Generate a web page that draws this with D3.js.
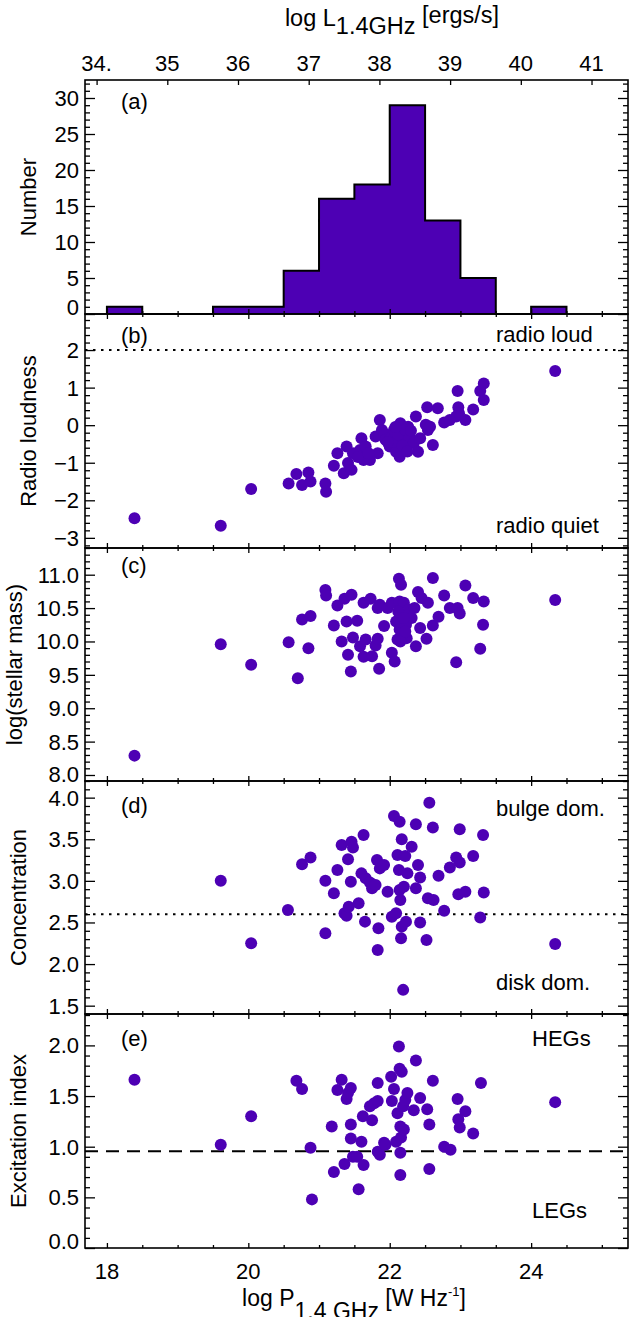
<!DOCTYPE html>
<html>
<head>
<meta charset="utf-8">
<script src="https://cdn.jsdelivr.net/npm/d3@7"></script>
<style>
  body { margin: 0; background: #fff; }
  svg text { font-family: "Liberation Sans", Arial, sans-serif; fill: #000; }
</style>
</head>
<body>
<svg id="chart" width="629" height="1317"></svg>
<script>
// histogram of log P (bin start, width 0.5) and counts
const histStart = [18.0, 18.5, 19.0, 19.5, 20.0, 20.5, 21.0, 21.5, 22.0, 22.5, 23.0, 23.5, 24.0];
const histCount = [1, 0, 0, 1, 1, 6, 16, 18, 29, 13, 5, 0, 1];
const binWidth = 0.5;

// top axis: log L = log P + 16.146
const topTicks = [34, 35, 36, 37, 38, 39, 40, 41];
const topLabels = ["34.", "35", "36", "37", "38", "39", "40", "41"];
const logLOffset = 16.146;

// (b) radio loudness
const loudX = [18.39, 19.61, 20.04, 20.57, 20.68, 20.76, 20.85, 20.88, 21.09, 21.10, 21.21, 21.26, 21.35, 21.39, 21.41, 21.46,
  21.48, 21.58, 21.60, 21.63, 21.66, 21.72, 21.80, 21.83, 21.86, 21.89, 21.92, 21.94, 22.00, 22.03, 22.06, 22.09,
  22.11, 22.14, 22.15, 22.17, 22.20, 22.23, 22.26, 22.28, 22.34, 22.37, 22.40, 22.43, 22.51, 22.54, 22.57, 22.53,
  22.61, 22.68, 22.77, 22.85, 22.94, 22.97, 22.96, 22.98, 23.07, 23.18, 23.28, 23.33, 23.33, 24.34,
  22.05, 22.12, 22.18, 22.22, 22.08, 21.97, 22.30, 22.25, 21.55, 21.70];
const loudY = [-2.48, -2.68, -1.70, -1.55, -1.30, -1.59, -1.26, -1.50, -1.55, -1.77, -1.08, -0.75, -1.28, -0.57, -1.01, -1.19,
  -0.75, -0.66, -0.35, -0.93, -0.57, -0.93, -0.30, -0.75, 0.14, -0.13, -0.22, -0.39, -0.57, -0.30, -0.13, -0.71,
  -0.04, -0.84, 0.05, -0.39, -0.22, -0.57, -0.04, -0.30, -0.48, 0.23, -0.71, -0.35, 0.01, -0.13, -0.04, 0.48,
  -0.53, 0.45, 0.07, 0.14, 0.23, 0.48, 0.91, 0.32, 0.14, 0.42, 0.91, 1.11, 0.67, 1.44,
  -0.45, -0.25, -0.55, -0.12, -0.05, -0.45, -0.15, -0.70, -0.85, -0.75];

// (c) log stellar mass
const massX = [18.39, 19.61, 20.04, 20.57, 20.70, 20.76, 20.85, 20.88, 21.09, 21.10, 21.21, 21.26, 21.32, 21.36, 21.39, 21.41,
  21.46, 21.45, 21.48, 21.54, 21.58, 21.63, 21.63, 21.66, 21.73, 21.75, 21.80, 21.83, 21.83, 21.85, 21.86, 21.92,
  21.97, 22.03, 22.03, 22.07, 22.09, 22.11, 22.13, 22.16, 22.14, 22.14, 22.17, 22.20, 22.23, 22.24, 22.27, 22.31,
  22.35, 22.37, 22.40, 22.43, 22.45, 22.52, 22.54, 22.61, 22.61, 22.69, 22.77, 22.85, 22.94, 22.96, 22.99, 23.07,
  23.18, 23.28, 23.32, 23.33, 24.34,
  22.12, 22.18, 22.20, 22.15, 22.22];
const massY = [8.29, 9.96, 9.65, 9.99, 9.45, 10.33, 9.90, 10.38, 10.77, 10.69, 10.24, 10.54, 10.00, 10.64, 10.30, 9.80,
  10.70, 9.55, 10.06, 10.31, 9.93, 10.58, 9.77, 10.03, 10.64, 9.78, 9.94, 10.04, 10.50, 9.59, 10.55, 10.23,
  10.50, 10.58, 9.83, 9.70, 10.30, 10.03, 10.94, 10.85, 10.60, 10.18, 10.40, 10.58, 10.25, 10.05, 10.48, 10.35,
  10.50, 9.93, 10.74, 10.20, 10.65, 10.04, 10.58, 10.95, 10.24, 10.37, 10.69, 10.50, 9.69, 10.50, 10.42, 10.84,
  10.65, 9.89, 10.25, 10.60, 10.62,
  10.45, 10.12, 10.35, 10.00, 10.15];

// (d) concentration
const concX = [19.61, 20.04, 20.56, 20.76, 20.88, 21.09, 21.09, 21.21, 21.26, 21.32, 21.36, 21.39, 21.41, 21.42, 21.45, 21.46,
  21.48, 21.56, 21.60, 21.63, 21.65, 21.66, 21.72, 21.75, 21.80, 21.82, 21.84, 21.83, 21.86, 21.92, 21.97, 22.03,
  22.06, 22.09, 22.11, 22.13, 22.14, 22.14, 22.15, 22.16, 22.17, 22.17, 22.20, 22.22, 22.23, 22.25, 22.19, 22.31,
  22.37, 22.37, 22.40, 22.43, 22.43, 22.52, 22.54, 22.56, 22.61, 22.62, 22.69, 22.77, 22.85, 22.94, 22.97, 22.99,
  22.99, 23.07, 23.18, 23.28, 23.32, 23.33, 24.34];
const concY = [3.00, 2.25, 2.65, 3.20, 3.28, 3.00, 2.37, 2.85, 3.13, 3.43, 2.61, 2.58, 3.26, 2.69, 2.99, 3.47,
  3.40, 2.73, 3.09, 3.55, 2.51, 3.03, 2.98, 2.91, 2.95, 3.25, 2.43, 2.17, 3.15, 3.19, 2.87, 2.57,
  3.78, 2.61, 3.31, 3.13, 3.71, 2.89, 2.77, 2.31, 3.50, 2.45, 2.93, 3.30, 2.51, 3.09, 1.69, 3.41,
  3.68, 2.91, 3.19, 3.04, 2.50, 2.29, 2.79, 3.94, 3.64, 2.77, 3.06, 2.64, 3.16, 3.28, 2.84, 3.62,
  3.22, 2.87, 3.30, 2.56, 3.55, 2.86, 2.24];

// (e) excitation index
const excX = [18.39, 19.61, 20.04, 20.68, 20.76, 20.88, 20.90, 21.18, 21.21, 21.26, 21.32, 21.36, 21.39, 21.41, 21.45, 21.45,
  21.45, 21.48, 21.54, 21.56, 21.60, 21.62, 21.63, 21.72, 21.75, 21.78, 21.83, 21.83, 21.83, 21.86, 21.92, 21.94,
  22.02, 22.03, 22.06, 22.09, 22.11, 22.13, 22.14, 22.15, 22.15, 22.15, 22.16, 22.17, 22.19, 22.20, 22.22, 22.25,
  22.34, 22.37, 22.43, 22.53, 22.56, 22.56, 22.61, 22.77, 22.86, 22.96, 22.97, 22.99, 23.07, 23.18, 23.29, 24.34];
const excY = [1.66, 1.02, 1.30, 1.65, 1.57, 0.99, 0.48, 1.20, 0.75, 1.56, 1.66, 0.83, 1.47, 1.53, 1.58, 1.22,
  1.08, 0.90, 0.90, 0.58, 1.05, 1.30, 0.82, 1.40, 1.26, 1.43, 1.45, 1.63, 0.95, 0.92, 1.04, 1.02,
  1.69, 1.45, 1.57, 1.05, 1.33, 1.99, 1.77, 0.72, 0.94, 1.20, 1.09, 1.74, 1.40, 1.17, 1.46, 1.53,
  1.36, 1.85, 1.48, 1.37, 1.22, 0.78, 1.65, 1.00, 0.97, 1.47, 1.27, 1.19, 1.35, 1.13, 1.63, 1.44];

const purple = "#4d00b4";
const left = 85, right = 628;
const svg = d3.select("#chart");

const x = d3.scaleLinear().domain([17.69, 25.37]).range([left, right]);
const xMajor = [18, 20, 22, 24];
const xMinor = d3.range(18, 25.6, 0.5).filter(v => !xMajor.includes(v));

const panels = [
  {top: 80, bottom: 314, domain: [0, 32.5], major: d3.range(0, 31, 5), minor: 1, fmt: d3.format("d"),
   title: "Number", titleX: 36, tag: "(a)", tagDy: 29},
  {top: 314, bottom: 548, domain: [-3.27, 2.96], major: [-3, -2, -1, 0, 1, 2], minor: 0.2, fmt: d3.format("d"),
   title: "Radio loudness", titleX: 36, tag: "(b)", tagDy: 29, xs: loudX, ys: loudY,
   line: {v: 2, dash: "2.5,5.5"}, notes: [["radio loud", 496, 342], ["radio quiet", 496, 533]]},
  {top: 548, bottom: 781, domain: [7.91, 11.4], major: d3.range(8, 11.01, 0.5), minor: 0.1, fmt: d3.format(".1f"),
   title: "log(stellar mass)", titleX: 22, tag: "(c)", tagDy: 25, xs: massX, ys: massY},
  {top: 781, bottom: 1014, domain: [1.4, 4.2], major: d3.range(1.5, 4.01, 0.5), minor: 0.1, fmt: d3.format(".1f"),
   title: "Concentration", titleX: 26, tag: "(d)", tagDy: 32, xs: concX, ys: concY,
   line: {v: 2.6, dash: "2.5,5.5"}, notes: [["bulge dom.", 496, 816], ["disk dom.", 496, 990]]},
  {top: 1014, bottom: 1248, domain: [0, 2.31], major: d3.range(0, 2.01, 0.5), minor: 0.1, fmt: d3.format(".1f"),
   title: "Excitation index", titleX: 26, tag: "(e)", tagDy: 32, xs: excX, ys: excY,
   line: {v: 0.955, dash: "13,8"}, notes: [["HEGs", 532, 1046], ["LEGs", 532, 1218]]}
];

function minorTicks(domain, step) {
  const lo = Math.ceil(domain[0] / step - 1e-6), hi = Math.floor(domain[1] / step + 1e-6);
  return d3.range(lo, hi + 1).map(i => +(i * step).toFixed(3));
}

function noDomain(g) { g.select(".domain").remove(); g.selectAll("line").attr("stroke", "#000").attr("stroke-width", 1.3); }

panels.forEach((p, i) => {
  const y = d3.scaleLinear().domain(p.domain).range([p.bottom, p.top]);
  const g = svg.append("g");
  const minors = minorTicks(p.domain, p.minor).filter(v => !p.major.some(m => Math.abs(m - v) < 1e-6));

  // histogram: one filled step area plus black outline
  if (i === 0) {
    const pts = [[histStart[0], 0]];
    histStart.forEach((s, k) => { pts.push([s, histCount[k]], [s + binWidth, histCount[k]]); });
    pts.push([histStart[histStart.length - 1] + binWidth, 0]);
    g.append("path")
      .attr("d", d3.area().x(d => x(d[0])).y0(y(0)).y1(d => y(d[1]))(pts))
      .attr("fill", purple);
    g.append("path")
      .attr("d", d3.line().x(d => x(d[0])).y(d => y(d[1]))(pts))
      .attr("fill", "none").attr("stroke", "#000").attr("stroke-width", 2);
  }

  // reference line
  if (p.line) {
    g.append("line")
      .attr("x1", left).attr("x2", right)
      .attr("y1", y(p.line.v)).attr("y2", y(p.line.v))
      .attr("stroke", "#000").attr("stroke-width", 2)
      .attr("stroke-dasharray", p.line.dash);
  }

  // points
  if (p.xs) {
    g.selectAll("circle").data(p.xs).enter().append("circle")
      .attr("cx", d => x(d))
      .attr("cy", (d, k) => y(p.ys[k]))
      .attr("r", 6)
      .attr("fill", purple);
  }

  // ticks: left / right
  const tickW = 10;
  g.append("g").attr("transform", `translate(${left},0)`)
    .call(d3.axisLeft(y).tickValues(p.major).tickSize(-tickW).tickFormat("")).call(noDomain);
  g.append("g").attr("transform", `translate(${left},0)`)
    .call(d3.axisLeft(y).tickValues(minors).tickSize(-tickW / 2).tickFormat("")).call(noDomain);
  g.append("g").attr("transform", `translate(${right},0)`)
    .call(d3.axisRight(y).tickValues(p.major).tickSize(-tickW).tickFormat("")).call(noDomain);
  g.append("g").attr("transform", `translate(${right},0)`)
    .call(d3.axisRight(y).tickValues(minors).tickSize(-tickW / 2).tickFormat("")).call(noDomain);

  // ticks: bottom / top
  g.append("g").attr("transform", `translate(0,${p.bottom})`)
    .call(d3.axisBottom(x).tickValues(xMajor).tickSize(-5).tickFormat("")).call(noDomain);
  g.append("g").attr("transform", `translate(0,${p.bottom})`)
    .call(d3.axisBottom(x).tickValues(xMinor).tickSize(-3).tickFormat("")).call(noDomain);
  if (i === 0) {
    g.append("g").attr("transform", `translate(0,${p.top})`)
      .call(d3.axisTop(x).tickValues(topTicks.map(v => v - logLOffset)).tickSize(-5).tickFormat("")).call(noDomain);
  } else {
    g.append("g").attr("transform", `translate(0,${p.top})`)
      .call(d3.axisTop(x).tickValues(xMajor).tickSize(-5).tickFormat("")).call(noDomain);
    g.append("g").attr("transform", `translate(0,${p.top})`)
      .call(d3.axisTop(x).tickValues(xMinor).tickSize(-3).tickFormat("")).call(noDomain);
  }

  // frame
  g.append("rect").attr("x", left).attr("y", p.top)
    .attr("width", right - left).attr("height", p.bottom - p.top)
    .attr("fill", "none").attr("stroke", "#000").attr("stroke-width", 1.6);

  // y tick labels
  g.selectAll("text.ylab").data(p.major).enter().append("text")
    .attr("x", 79)
    .attr("y", d => Math.min(y(d), p.bottom - 7))
    .attr("dy", "0.36em")
    .attr("text-anchor", "end")
    .attr("font-size", 22)
    .text(p.fmt);

  // y title
  g.append("text")
    .attr("transform", `translate(${p.titleX},${(p.top + p.bottom) / 2}) rotate(-90)`)
    .attr("text-anchor", "middle")
    .attr("font-size", 22)
    .text(p.title);

  // panel tag
  g.append("text").attr("x", 121).attr("y", p.top + p.tagDy)
    .attr("font-size", 22).text(p.tag);

  (p.notes || []).forEach(n => {
    g.append("text").attr("x", n[1]).attr("y", n[2]).attr("font-size", 22).text(n[0]);
  });
});

// top axis labels (log L)
svg.selectAll("text.toplab").data(topTicks).enter().append("text")
  .attr("x", d => x(d - logLOffset))
  .attr("y", 71)
  .attr("text-anchor", "middle")
  .attr("font-size", 22)
  .text((d, k) => topLabels[k]);

// bottom axis labels
svg.selectAll("text.botlab").data(xMajor).enter().append("text")
  .attr("x", d => x(d))
  .attr("y", 1279)
  .attr("text-anchor", "middle")
  .attr("font-size", 22)
  .text(d => d);

// top title
const tt = svg.append("text").attr("x", 392).attr("y", 26).attr("text-anchor", "middle").attr("font-size", 23.5);
tt.append("tspan").text("log L");
tt.append("tspan").attr("dy", 8).text("1.4GHz");
tt.append("tspan").attr("dy", -11).text(" [ergs/s]");

// bottom title
const bt = svg.append("text").attr("x", 354).attr("y", 1306).attr("text-anchor", "middle").attr("font-size", 23);
bt.append("tspan").text("log P");
bt.append("tspan").attr("dy", 13).text("1.4 GHz");
bt.append("tspan").attr("dy", -13).text(" [W Hz");
bt.append("tspan").attr("dy", -10).attr("font-size", 13).text("-1");
bt.append("tspan").attr("dy", 10).text("]");
</script>
</body>
</html>
